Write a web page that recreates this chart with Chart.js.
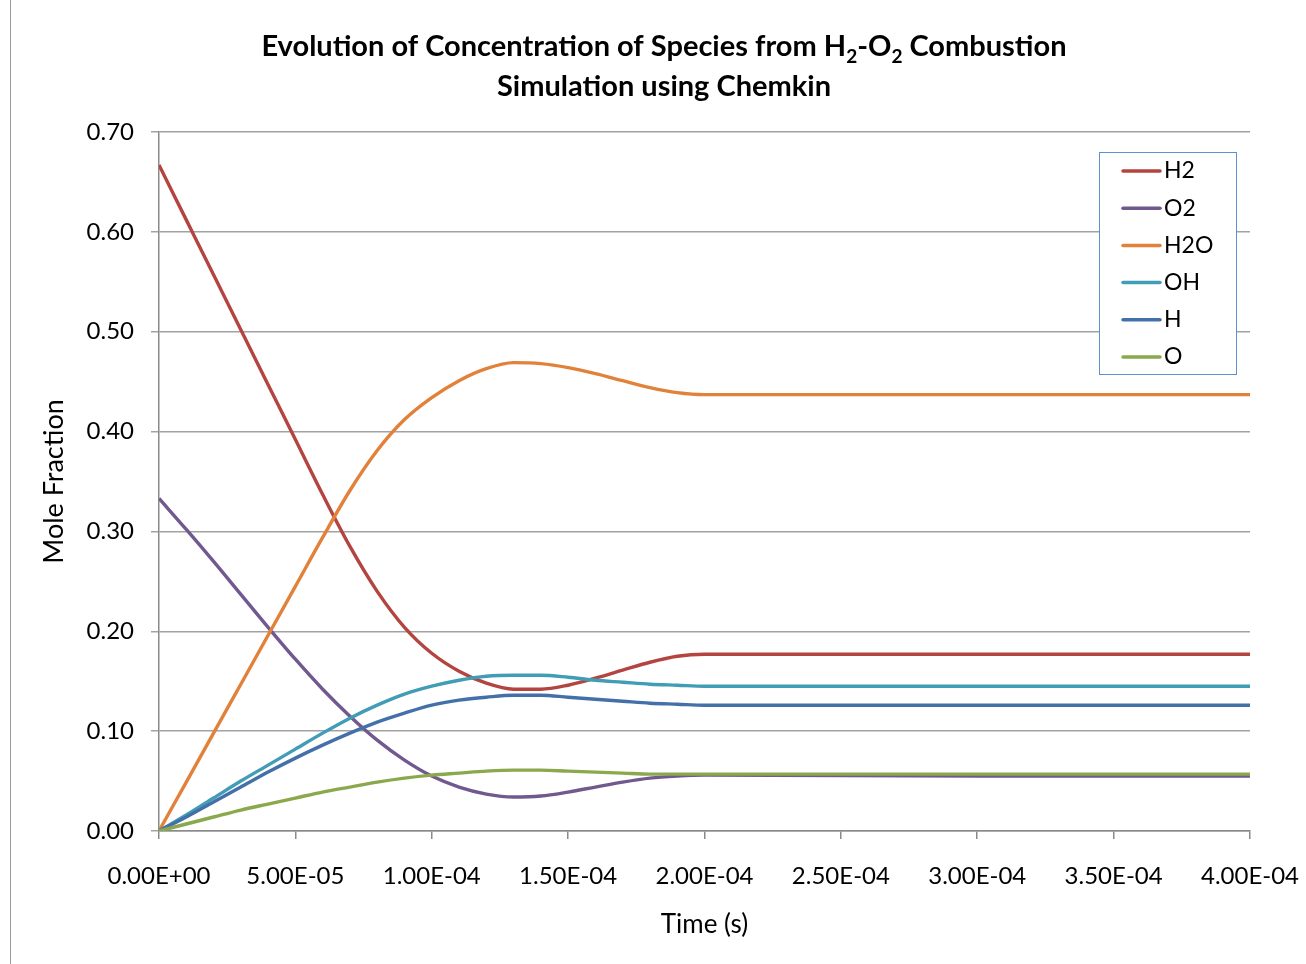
<!DOCTYPE html>
<html>
<head>
<meta charset="utf-8">
<script src="https://cdn.jsdelivr.net/npm/chart.js@4/dist/chart.umd.min.js"></script>
<style>
  html, body { margin: 0; padding: 0; background: #fff; }
</style>
</head>
<body>
<canvas id="myChart" width="1306" height="964"></canvas>
<script>
// time in seconds
const time = [0, 1e-5, 2e-5, 3e-5, 4e-5, 5e-5, 6e-5, 7e-5, 8e-5, 9e-5, 1e-4,
  1.1e-4, 1.2e-4, 1.3e-4, 1.4e-4, 1.5e-4, 1.6e-4, 1.7e-4, 1.8e-4, 1.9e-4, 2e-4, 3e-4, 4e-4];

// mole fractions
const h2  = [0.667, 0.612, 0.557, 0.502, 0.447, 0.392, 0.337, 0.285, 0.240, 0.204, 0.178,
  0.160, 0.148, 0.142, 0.142, 0.146, 0.153, 0.161, 0.169, 0.175, 0.177, 0.177, 0.177];
const o2  = [0.333, 0.302, 0.270, 0.237, 0.204, 0.172, 0.142, 0.115, 0.091, 0.071, 0.055,
  0.044, 0.037, 0.034, 0.035, 0.039, 0.044, 0.049, 0.053, 0.055, 0.056, 0.055, 0.055];
const h2o = [0, 0.049, 0.098, 0.147, 0.196, 0.245, 0.294, 0.341, 0.381, 0.412, 0.434,
  0.451, 0.463, 0.469, 0.468, 0.464, 0.458, 0.451, 0.444, 0.439, 0.437, 0.437, 0.437];
const oh  = [0, 0.016, 0.033, 0.050, 0.066, 0.082, 0.098, 0.113, 0.126, 0.137, 0.145,
  0.151, 0.155, 0.156, 0.156, 0.154, 0.151, 0.149, 0.147, 0.146, 0.145, 0.145, 0.145];
const h   = [0, 0.014, 0.029, 0.044, 0.059, 0.073, 0.086, 0.098, 0.109, 0.118, 0.126,
  0.131, 0.134, 0.136, 0.136, 0.134, 0.132, 0.130, 0.128, 0.127, 0.126, 0.126, 0.126];
const o   = [0, 0.007, 0.014, 0.021, 0.027, 0.033, 0.039, 0.044, 0.049, 0.053, 0.056,
  0.058, 0.060, 0.061, 0.061, 0.060, 0.059, 0.058, 0.057, 0.057, 0.057, 0.057, 0.057];

const species = ['H2', 'O2', 'H2O', 'OH', 'H', 'O'];
const series = [h2, o2, h2o, oh, h, o];
const colors = ['#B3443F', '#71588F', '#E2813A', '#419CB5', '#4470AA', '#8AA84C'];

const FONT = 'Lato, "Liberation Sans", sans-serif';
Chart.defaults.font.family = FONT;
Chart.defaults.color = '#000';

function sci(v) {
  if (Math.abs(v) < 1e-12) return '0.00E+00';
  const parts = v.toExponential(2).split('e');
  const n = parseInt(parts[1], 10);
  return parts[0] + 'E' + (n < 0 ? '-' : '+') + String(Math.abs(n)).padStart(2, '0');
}

// title with real subscripts
const titlePlugin = {
  id: 'excelTitle',
  afterDraw(chart) {
    const ctx = chart.ctx;
    const cx = 664;
    const big = 'bold 29px ' + FONT, small = 'bold 19px ' + FONT;
    const pieces = [
      ['Evolution of Concentration of Species from H', big, 0],
      ['2', small, 7],
      ['-O', big, 0],
      ['2', small, 7],
      [' Combustion', big, 0]
    ];
    ctx.save();
    ctx.fillStyle = '#000';
    ctx.textBaseline = 'alphabetic';
    ctx.textAlign = 'left';
    let w = 0;
    pieces.forEach(p => { ctx.font = p[1]; w += ctx.measureText(p[0]).width; });
    let x = cx - w / 2;
    pieces.forEach(p => {
      ctx.font = p[1];
      ctx.fillText(p[0], x, 56 + p[2]);
      x += ctx.measureText(p[0]).width;
    });
    ctx.font = big;
    ctx.textAlign = 'center';
    ctx.fillText('Simulation using Chemkin', cx, 96);
    // outer chart border visible at the left edge
    ctx.strokeStyle = '#9a9a9a';
    ctx.lineWidth = 1;
    ctx.beginPath();
    ctx.moveTo(10.5, 0);
    ctx.lineTo(10.5, 964);
    ctx.stroke();
    ctx.restore();
  }
};

// boxed legend inside the plot, Excel style
const legendPlugin = {
  id: 'boxLegend',
  afterDraw(chart) {
    const ctx = chart.ctx;
    ctx.save();
    ctx.fillStyle = '#fff';
    ctx.fillRect(1099, 152, 137, 222);
    ctx.strokeStyle = '#5E8FCF';
    ctx.lineWidth = 1;
    ctx.strokeRect(1099.5, 152.5, 137, 222);
    ctx.font = '23px ' + FONT;
    ctx.textBaseline = 'middle';
    ctx.textAlign = 'left';
    species.forEach((name, i) => {
      const y = 171 + i * 37.2;
      ctx.strokeStyle = colors[i];
      ctx.lineWidth = 3.5;
      ctx.lineCap = 'round';
      ctx.beginPath();
      ctx.moveTo(1123, y);
      ctx.lineTo(1160, y);
      ctx.stroke();
      ctx.fillStyle = '#000';
      ctx.fillText(name, 1164, y);
    });
    ctx.restore();
  }
};

const datasets = species.map((name, i) => ({
  label: name,
  data: time.map((t, k) => ({ x: t, y: series[i][k] })),
  borderColor: colors[i],
  backgroundColor: colors[i],
  borderWidth: 3.4,
  pointRadius: 0,
  showLine: true,
  fill: false,
  cubicInterpolationMode: 'monotone',
  order: species.length - i
}));

const config = {
  type: 'scatter',
  data: { datasets },
  options: {
    responsive: false,
    animation: false,
    devicePixelRatio: 1,
    layout: { padding: { top: 132, right: 56, bottom: 0, left: 0 } },
    plugins: {
      legend: { display: false },
      title: { display: false },
      tooltip: { enabled: false }
    },
    scales: {
      x: {
        type: 'linear',
        min: 0,
        max: 4e-4,
        afterFit(scale) {
          scale.height = 133;
          scale.paddingLeft = 0;
          scale.paddingRight = 0;
        },
        afterBuildTicks(scale) {
          scale.ticks = [0, 5e-5, 1e-4, 1.5e-4, 2e-4, 2.5e-4, 3e-4, 3.5e-4, 4e-4].map(v => ({ value: v }));
        },
        ticks: {
          callback: v => sci(v),
          font: { size: 24 },
          padding: 23,
          maxRotation: 0,
          autoSkip: false
        },
        grid: {
          drawOnChartArea: false,
          drawTicks: true,
          tickLength: 8,
          color: '#8a8a8a',
          lineWidth: 1.5
        },
        border: { color: '#8a8a8a', width: 1.5 },
        title: {
          display: true,
          text: 'Time (s)',
          font: { size: 26 },
          padding: { top: 0, bottom: 24 }
        }
      },
      y: {
        min: 0,
        max: 0.7,
        afterFit(scale) {
          scale.width = 159;
          scale.paddingTop = 0;
          scale.paddingBottom = 0;
        },
        ticks: {
          stepSize: 0.1,
          callback: v => v.toFixed(2),
          font: { size: 24 },
          padding: 17
        },
        grid: {
          color: '#a2a2a2',
          lineWidth: 1.5,
          tickLength: 8,
          drawTicks: true
        },
        border: { color: '#8a8a8a', width: 1.5 },
        title: {
          display: true,
          text: 'Mole Fraction',
          font: { size: 27 },
          padding: { top: 38, bottom: 0 }
        }
      }
    }
  },
  plugins: [titlePlugin, legendPlugin]
};

const myChart = new Chart(document.getElementById('myChart'), config);
</script>
</body>
</html>
